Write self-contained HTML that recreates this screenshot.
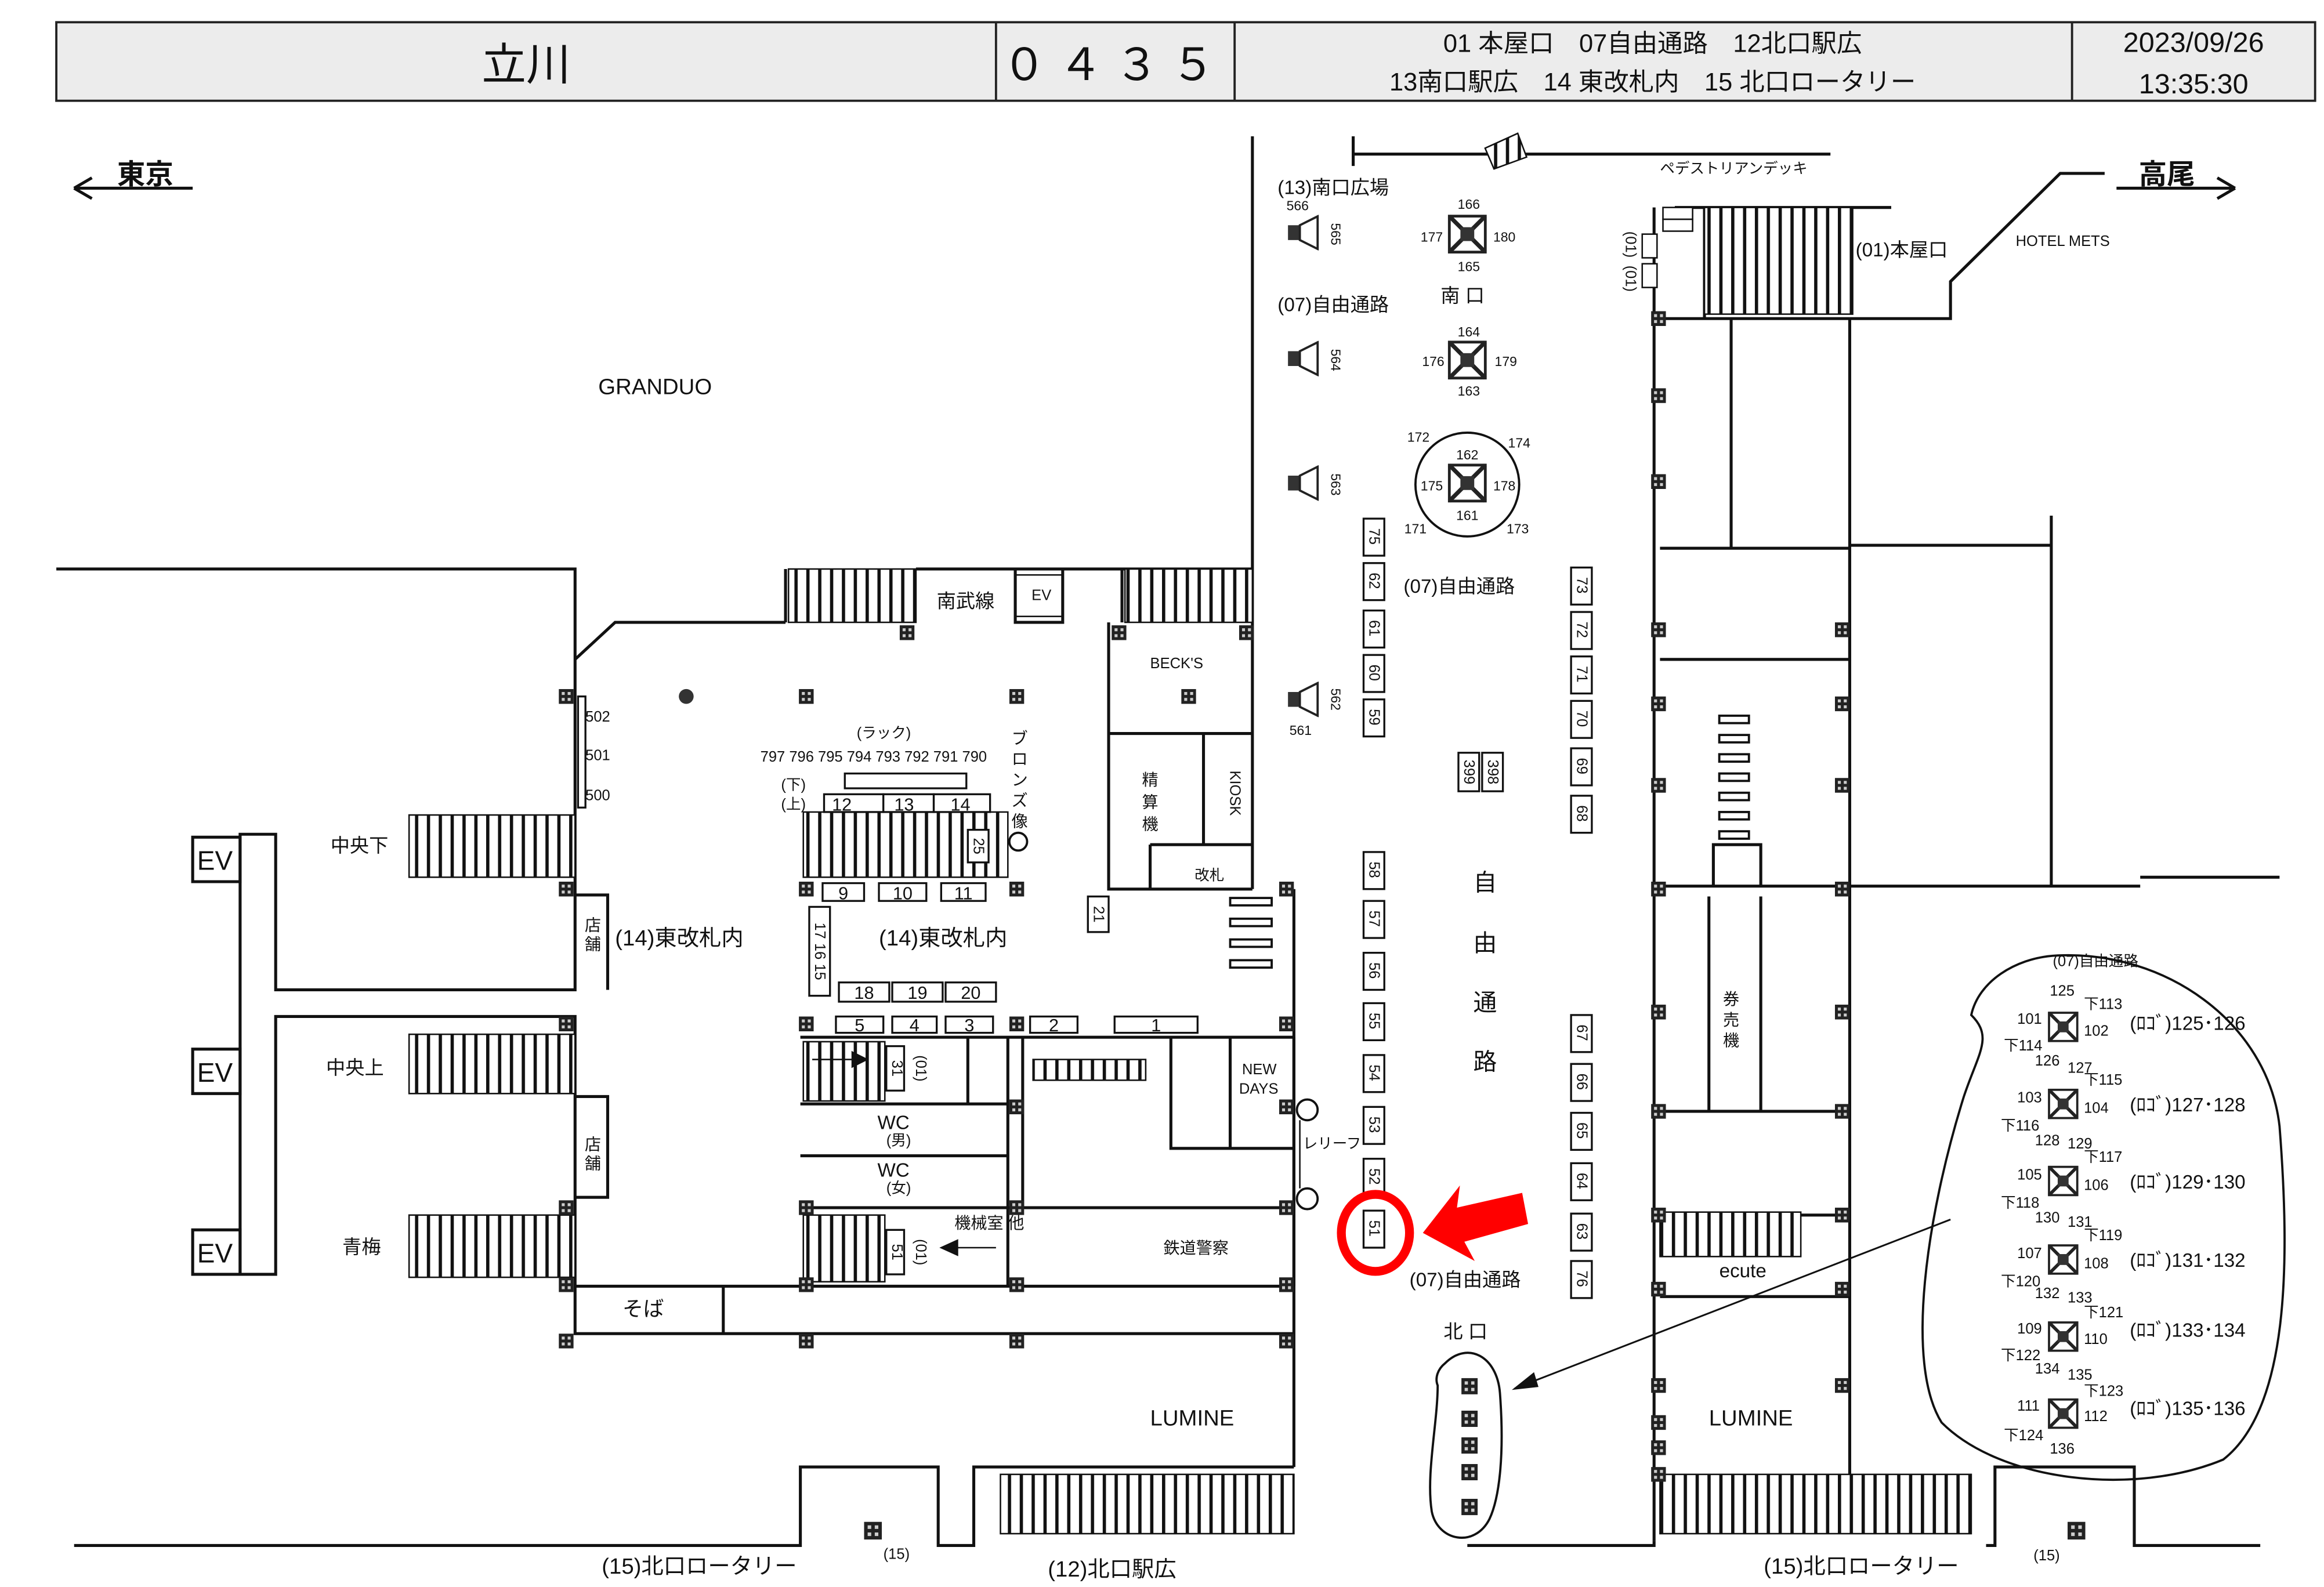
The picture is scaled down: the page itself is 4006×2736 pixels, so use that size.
<!DOCTYPE html>
<html><head><meta charset="utf-8"><style>
html,body{margin:0;padding:0;background:#fff;}
svg{display:block;}
text{font-family:"Liberation Sans","Noto Sans CJK JP",sans-serif;fill:#111;}
</style></head><body>
<svg width="4006" height="2736" viewBox="0 0 1568 1071" preserveAspectRatio="none" xmlns="http://www.w3.org/2000/svg">
<defs>
<pattern id="hat" width="8" height="10" patternUnits="userSpaceOnUse"><rect width="8" height="10" fill="#fff"/><rect x="0" width="2.2" height="10" fill="#111"/></pattern>
<symbol id="p" viewBox="0 0 10 10"><rect width="10" height="10" fill="#222"/><rect x="2" y="2" width="2" height="2" fill="#ccc"/><rect x="6" y="2" width="2" height="2" fill="#ccc"/><rect x="2" y="6" width="2" height="2" fill="#ccc"/><rect x="6" y="6" width="2" height="2" fill="#ccc"/></symbol>
<symbol id="sq" viewBox="0 0 30 30"><rect x="2" y="2" width="26" height="26" fill="#fff" stroke="#222" stroke-width="2"/><path d="M2 2L28 28M28 2L2 28" stroke="#222" stroke-width="3"/><rect x="10" y="10" width="10" height="10" fill="#333"/></symbol>
<symbol id="spk" viewBox="0 0 24 24"><rect x="2" y="7" width="8" height="10" fill="#333"/><path d="M10 7L22 1V23L10 17Z" fill="#fff" stroke="#222" stroke-width="1.5"/></symbol>
</defs>
<rect width="1568" height="1071" fill="#fff"/>
<!-- header -->
<rect x="38" y="15" width="1524" height="53" fill="#ececec" stroke="#222" stroke-width="1.5"/>
<path d="M672 15V68M833 15V68M1398 15V68" stroke="#222" stroke-width="1.5"/>
<text x="355" y="54" font-size="30" text-anchor="middle">立川</text>
<text x="752" y="54" font-size="30" text-anchor="middle" letter-spacing="8">０４３５</text>
<text x="1115" y="35" font-size="17" text-anchor="middle">01 本屋口　07自由通路　12北口駅広</text>
<text x="1115" y="61" font-size="17" text-anchor="middle">13南口駅広　14 東改札内　15 北口ロータリー</text>
<text x="1480" y="35" font-size="19" text-anchor="middle">2023/09/26</text>
<text x="1480" y="63" font-size="19" text-anchor="middle">13:35:30</text>
<!-- direction -->
<g stroke="#111" stroke-width="2" fill="none"><path d="M50 127H130M50 127L62 120M50 127L62 134"/><path d="M1428 127H1508M1508 127L1496 120M1508 127L1496 134"/></g>
<text x="98" y="124" font-size="19" text-anchor="middle" font-weight="bold">東京</text>
<text x="1462" y="124" font-size="19" text-anchor="middle" font-weight="bold">高尾</text>
<text x="442" y="266" font-size="15" text-anchor="middle">GRANDUO</text>
<!-- walls -->
<g stroke="#111" stroke-width="2" fill="none">
<path d="M38 384H388V668H186V563H162V860H186V686H388V900H873"/>
<path d="M388 868H873"/>
<path d="M388 445L415 420H530"/>
<path d="M845 92V600"/>
<path d="M873 600V990"/>
<path d="M530 384V420M618 384H757V420M757 384H845"/>
<path d="M685 384V420H717V384"/>
<path d="M748 420V600H845"/>
<path d="M748 495H845M812 495V570M776 570H845M776 570V600"/>
<path d="M913 92V112M913 104H1235"/>
<path d="M1116 140V1040M1248 215V1000"/>
<path d="M1116 215H1248M1168 215V370M1120 370H1248V445H1120M1120 598H1248M1156 598V570H1188V598"/>
<path d="M1248 368H1384V348M1384 348V598M1248 598H1444M1444 592H1538"/>
<path d="M1248 215H1316V190L1390 117H1420"/>
<path d="M1130 140H1276M1150 215V140"/>
<path d="M1153 605V750H1188V605"/>
<path d="M1120 750H1248M1120 820H1248M1120 875H1248"/>
<path d="M540 700H873M690 700V815H873M790 700V775H873M830 700V775"/>
<path d="M540 745H680M540 780H680M540 815H690"/>
<path d="M653 700V745M680 700V868"/>
<path d="M488 868V900"/>
<path d="M50 1043H540V990H633V1043H657V990H873M990 1043H1116V1040M1340 1043H1346V990H1440V1043H1525"/>
<path d="M388 604H410V668M388 740H410V808H388"/>
<path d="M130 565H162V595H130ZM130 708H162V738H130ZM130 830H162V860H130Z"/>
<path d="M873 700V868"/>
</g>
<!-- escalators/stairs -->
<g stroke="#111" stroke-width="1">
<rect x="532" y="384" width="86" height="36" fill="url(#hat)"/>
<rect x="759" y="384" width="86" height="36" fill="url(#hat)"/>
<rect x="276" y="550" width="112" height="42" fill="url(#hat)"/>
<rect x="276" y="698" width="112" height="40" fill="url(#hat)"/>
<rect x="276" y="820" width="112" height="42" fill="url(#hat)"/>
<rect x="542" y="548" width="138" height="44" fill="url(#hat)"/>
<rect x="542" y="703" width="55" height="40" fill="url(#hat)"/>
<rect x="542" y="820" width="55" height="45" fill="url(#hat)"/>
<rect x="697" y="715" width="76" height="14" fill="url(#hat)"/>
<rect x="1120" y="818" width="95" height="30" fill="url(#hat)"/>
<rect x="1150" y="140" width="100" height="72" fill="url(#hat)"/>
<rect x="675" y="995" width="198" height="40" fill="url(#hat)"/>
<rect x="1120" y="995" width="210" height="40" fill="url(#hat)"/>
<path d="M1002 100L1024 90L1030 106L1008 114Z" fill="url(#hat)"/>
</g>
<!-- benches -->
<g fill="#fff" stroke="#111" stroke-width="1.5">
<rect x="830" y="606" width="28" height="5"/><rect x="830" y="620" width="28" height="5"/><rect x="830" y="634" width="28" height="5"/><rect x="830" y="648" width="28" height="5"/>
<rect x="1160" y="483" width="20" height="5"/><rect x="1160" y="496" width="20" height="5"/><rect x="1160" y="509" width="20" height="5"/><rect x="1160" y="522" width="20" height="5"/><rect x="1160" y="535" width="20" height="5"/><rect x="1160" y="548" width="20" height="5"/><rect x="1160" y="561" width="20" height="5"/>
</g>
<!-- pillars -->
<g>
<use href="#p" x="377" y="465" width="10" height="10"/><use href="#p" x="539" y="465" width="10" height="10"/><use href="#p" x="681" y="465" width="10" height="10"/><use href="#p" x="797" y="465" width="10" height="10"/>
<use href="#p" x="607" y="422" width="10" height="10"/><use href="#p" x="750" y="422" width="10" height="10"/><use href="#p" x="836" y="422" width="10" height="10"/>
<use href="#p" x="377" y="595" width="10" height="10"/><use href="#p" x="539" y="595" width="10" height="10"/><use href="#p" x="681" y="595" width="10" height="10"/><use href="#p" x="863" y="595" width="10" height="10"/>
<use href="#p" x="377" y="686" width="10" height="10"/><use href="#p" x="539" y="686" width="10" height="10"/><use href="#p" x="681" y="686" width="10" height="10"/><use href="#p" x="863" y="686" width="10" height="10"/>
<use href="#p" x="377" y="810" width="10" height="10"/><use href="#p" x="539" y="810" width="10" height="10"/><use href="#p" x="681" y="810" width="10" height="10"/><use href="#p" x="863" y="810" width="10" height="10"/>
<use href="#p" x="377" y="862" width="10" height="10"/><use href="#p" x="539" y="862" width="10" height="10"/><use href="#p" x="681" y="862" width="10" height="10"/><use href="#p" x="863" y="862" width="10" height="10"/>
<use href="#p" x="681" y="742" width="10" height="10"/><use href="#p" x="863" y="742" width="10" height="10"/>
<use href="#p" x="377" y="900" width="10" height="10"/><use href="#p" x="539" y="900" width="10" height="10"/><use href="#p" x="681" y="900" width="10" height="10"/><use href="#p" x="863" y="900" width="10" height="10"/>
<use href="#p" x="1114" y="210" width="10" height="10"/><use href="#p" x="1114" y="262" width="10" height="10"/><use href="#p" x="1114" y="320" width="10" height="10"/><use href="#p" x="1114" y="420" width="10" height="10"/><use href="#p" x="1238" y="420" width="10" height="10"/><use href="#p" x="1114" y="470" width="10" height="10"/><use href="#p" x="1238" y="470" width="10" height="10"/><use href="#p" x="1114" y="525" width="10" height="10"/><use href="#p" x="1238" y="525" width="10" height="10"/><use href="#p" x="1114" y="595" width="10" height="10"/><use href="#p" x="1238" y="595" width="10" height="10"/><use href="#p" x="1114" y="678" width="10" height="10"/><use href="#p" x="1238" y="678" width="10" height="10"/><use href="#p" x="1114" y="745" width="10" height="10"/><use href="#p" x="1238" y="745" width="10" height="10"/><use href="#p" x="1114" y="815" width="10" height="10"/><use href="#p" x="1238" y="815" width="10" height="10"/><use href="#p" x="1114" y="865" width="10" height="10"/><use href="#p" x="1238" y="865" width="10" height="10"/><use href="#p" x="1114" y="930" width="10" height="10"/><use href="#p" x="1238" y="930" width="10" height="10"/><use href="#p" x="1114" y="955" width="10" height="10"/><use href="#p" x="1114" y="972" width="10" height="10"/><use href="#p" x="1114" y="990" width="10" height="10"/>
<use href="#p" x="1395" y="1027" width="12" height="12"/><use href="#p" x="583" y="1027" width="12" height="12"/>
<use href="#p" x="986" y="930" width="11" height="11"/><use href="#p" x="986" y="952" width="11" height="11"/><use href="#p" x="986" y="970" width="11" height="11"/><use href="#p" x="986" y="988" width="11" height="11"/><use href="#p" x="986" y="1010" width="11" height="14"/>
</g>
<circle cx="463" cy="470" r="5" fill="#333"/>
<!-- square devices -->
<use href="#sq" x="976" y="144" width="28" height="28"/><use href="#sq" x="976" y="229" width="28" height="28"/><use href="#sq" x="976" y="312" width="28" height="28"/>
<circle cx="990" cy="327" r="35" fill="none" stroke="#111" stroke-width="1.5"/>
<g font-size="9" text-anchor="middle"><text x="991" y="141">166</text><text x="991" y="183">165</text><text x="966" y="163">177</text><text x="1015" y="163">180</text><text x="991" y="227">164</text><text x="991" y="267">163</text><text x="967" y="247">176</text><text x="1016" y="247">179</text><text x="990" y="310">162</text><text x="990" y="351">161</text><text x="966" y="331">175</text><text x="1015" y="331">178</text><text x="957" y="298">172</text><text x="1025" y="302">174</text><text x="955" y="360">171</text><text x="1024" y="360">173</text></g>
<!-- speakers -->
<use href="#spk" x="867" y="145" width="24" height="24"/><use href="#spk" x="867" y="230" width="24" height="24"/><use href="#spk" x="867" y="314" width="24" height="24"/><use href="#spk" x="867" y="460" width="24" height="24"/>
<g font-size="9"><text x="868" y="142">566</text><text x="870" y="496">561</text></g>
<g font-size="9" text-anchor="middle"><text transform="translate(898,158) rotate(90)">565</text><text transform="translate(898,243) rotate(90)">564</text><text transform="translate(898,327) rotate(90)">563</text><text transform="translate(898,472) rotate(90)">562</text></g>
<!-- numbered vertical boxes -->
<g fill="#fff" stroke="#111" stroke-width="1.3">
<rect x="920" y="350" width="14" height="25"/><rect x="920" y="380" width="14" height="25"/><rect x="920" y="412" width="14" height="25"/><rect x="920" y="442" width="14" height="25"/><rect x="920" y="472" width="14" height="25"/><rect x="920" y="575" width="14" height="25"/><rect x="920" y="608" width="14" height="25"/><rect x="920" y="643" width="14" height="25"/><rect x="920" y="677" width="14" height="25"/><rect x="920" y="712" width="14" height="25"/><rect x="920" y="747" width="14" height="25"/><rect x="920" y="782" width="14" height="25"/><rect x="920" y="817" width="14" height="25"/>
<rect x="1060" y="383" width="14" height="25"/><rect x="1060" y="413" width="14" height="25"/><rect x="1060" y="443" width="14" height="25"/><rect x="1060" y="473" width="14" height="25"/><rect x="1060" y="505" width="14" height="25"/><rect x="1060" y="537" width="14" height="25"/><rect x="1060" y="685" width="14" height="25"/><rect x="1060" y="718" width="14" height="25"/><rect x="1060" y="751" width="14" height="25"/><rect x="1060" y="785" width="14" height="25"/><rect x="1060" y="819" width="14" height="25"/><rect x="1060" y="851" width="14" height="25"/>
<rect x="984" y="508" width="14" height="26"/><rect x="1000" y="508" width="14" height="26"/>
</g>
<g font-size="10" text-anchor="middle">
<text transform="translate(924,362) rotate(90)">75</text><text transform="translate(924,392) rotate(90)">62</text><text transform="translate(924,424) rotate(90)">61</text><text transform="translate(924,454) rotate(90)">60</text><text transform="translate(924,484) rotate(90)">59</text><text transform="translate(924,587) rotate(90)">58</text><text transform="translate(924,620) rotate(90)">57</text><text transform="translate(924,655) rotate(90)">56</text><text transform="translate(924,689) rotate(90)">55</text><text transform="translate(924,724) rotate(90)">54</text><text transform="translate(924,759) rotate(90)">53</text><text transform="translate(924,794) rotate(90)">52</text><text transform="translate(924,829) rotate(90)">51</text>
<text transform="translate(1064,395) rotate(90)">73</text><text transform="translate(1064,425) rotate(90)">72</text><text transform="translate(1064,455) rotate(90)">71</text><text transform="translate(1064,485) rotate(90)">70</text><text transform="translate(1064,517) rotate(90)">69</text><text transform="translate(1064,549) rotate(90)">68</text><text transform="translate(1064,697) rotate(90)">67</text><text transform="translate(1064,730) rotate(90)">66</text><text transform="translate(1064,763) rotate(90)">65</text><text transform="translate(1064,797) rotate(90)">64</text><text transform="translate(1064,831) rotate(90)">63</text><text transform="translate(1064,863) rotate(90)">76</text>
<text transform="translate(988,521) rotate(90)">399</text><text transform="translate(1004,521) rotate(90)">398</text>
</g>
<!-- central labels -->
<g font-size="16" text-anchor="middle"><text x="1002" y="601">自</text><text x="1002" y="642">由</text><text x="1002" y="682">通</text><text x="1002" y="722">路</text></g>
<g font-size="13">
<text x="862" y="131">(13)南口広場</text><text x="862" y="210">(07)自由通路</text><text x="972" y="204">南 口</text><text x="947" y="400">(07)自由通路</text><text x="951" y="868">(07)自由通路</text><text x="974" y="903">北 口</text>
<text x="1252" y="173">(01)本屋口</text>
<text x="632" y="410">南武線</text><text x="415" y="638" font-size="15">(14)東改札内</text><text x="593" y="638" font-size="15">(14)東改札内</text>
<text x="223" y="575">中央下</text><text x="220" y="725">中央上</text><text x="231" y="846">青梅</text>
<text x="420" y="888" font-size="14">そば</text>
<text x="776" y="962" font-size="15">LUMINE</text><text x="1153" y="962" font-size="15">LUMINE</text><text x="1160" y="862">ecute</text>
<text x="406" y="1062" font-size="15">(15)北口ロータリー</text><text x="707" y="1064" font-size="15">(12)北口駅広</text><text x="1190" y="1062" font-size="15">(15)北口ロータリー</text>
<text x="592" y="762">WC</text><text x="592" y="794">WC</text><text x="644" y="829" font-size="11">機械室 他</text><text x="785" y="846" font-size="11">鉄道警察</text>
</g>
<g font-size="10">
<text x="1120" y="117">ペデストリアンデッキ</text><text x="1360" y="166">HOTEL METS</text>
<text x="696" y="405" font-size="10">EV</text><rect x="685" y="388" width="32" height="28" fill="none" stroke="#111"/>
<text x="776" y="451">BECK'S</text><text x="806" y="594">改札</text><text x="838" y="725">NEW</text><text x="836" y="738">DAYS</text><text x="879" y="775">レリーフ</text>
<text x="578" y="498">(ラック)</text><text x="513" y="514">797 796 795 794 793 792 791 790</text>
<text x="527" y="533">(下)</text><text x="527" y="546">(上)</text>
<text x="598" y="773">(男)</text><text x="598" y="805">(女)</text>
<text x="395" y="487">502</text><text x="395" y="513">501</text><text x="395" y="540">500</text>
<text x="1385" y="652">(07)自由通路</text>
<text x="596" y="1052">(15)</text><text x="1372" y="1053">(15)</text>
</g>
<g font-size="18"><text x="133" y="587">EV</text><text x="133" y="730">EV</text><text x="133" y="852">EV</text></g>
<g font-size="11" text-anchor="middle"><text x="400" y="628">店</text><text x="400" y="641">舗</text><text x="400" y="776">店</text><text x="400" y="789">舗</text><text x="776" y="530">精</text><text x="776" y="545">算</text><text x="776" y="560">機</text><text x="1168" y="678">券</text><text x="1168" y="692">売</text><text x="1168" y="706">機</text><text x="688" y="502">ブ</text><text x="688" y="516">ロ</text><text x="688" y="530">ン</text><text x="688" y="544">ズ</text><text x="688" y="558">像</text></g>
<text transform="translate(830,520) rotate(90)" font-size="10">KIOSK</text>
<!-- numbered horizontal boxes -->
<g fill="#fff" stroke="#111" stroke-width="1.3">
<rect x="556" y="536" width="40" height="12"/><rect x="596" y="536" width="34" height="12"/><rect x="630" y="536" width="38" height="12"/>
<rect x="570" y="522" width="82" height="10"/>
<rect x="555" y="596" width="28" height="12"/><rect x="593" y="596" width="32" height="12"/><rect x="635" y="596" width="30" height="12"/>
<rect x="546" y="612" width="14" height="60"/><rect x="653" y="560" width="14" height="22"/>
<rect x="566" y="663" width="34" height="13"/><rect x="602" y="663" width="34" height="13"/><rect x="638" y="663" width="34" height="13"/>
<rect x="564" y="686" width="32" height="11"/><rect x="602" y="686" width="30" height="11"/><rect x="638" y="686" width="32" height="11"/><rect x="695" y="686" width="32" height="11"/><rect x="752" y="686" width="56" height="11"/>
<rect x="734" y="605" width="14" height="24"/><rect x="598" y="706" width="12" height="30"/><rect x="598" y="830" width="12" height="30"/>
<rect x="390" y="470" width="5" height="75"/>
</g>
<g font-size="12" text-anchor="middle"><text x="568" y="547">12</text><text x="610" y="547">13</text><text x="648" y="547">14</text><text x="569" y="607">9</text><text x="609" y="607">10</text><text x="650" y="607">11</text><text x="583" y="674">18</text><text x="619" y="674">19</text><text x="655" y="674">20</text><text x="580" y="696">5</text><text x="617" y="696">4</text><text x="654" y="696">3</text><text x="711" y="696">2</text><text x="780" y="696">1</text></g>
<g font-size="10" text-anchor="middle"><text transform="translate(550,642) rotate(90)">17 16 15</text><text transform="translate(657,571) rotate(90)">25</text><text transform="translate(738,617) rotate(90)">21</text><text transform="translate(602,721) rotate(90)">31</text><text transform="translate(602,845) rotate(90)">51</text><text transform="translate(618,721) rotate(90)">(01)</text><text transform="translate(618,845) rotate(90)">(01)</text><text transform="translate(1097,165) rotate(90)">(01)</text><text transform="translate(1097,188) rotate(90)">(01)</text></g>
<circle cx="687" cy="568" r="6" fill="none" stroke="#111" stroke-width="1.5"/>
<g fill="#fff" stroke="#111" stroke-width="1.5"><circle cx="882" cy="749" r="7"/><circle cx="882" cy="809" r="7"/></g>
<path d="M877 756V802" stroke="#111"/>
<path d="M672 842H635M635 842L646 837V847Z" stroke="#111" fill="#111"/>
<path d="M548 715H585M585 715L575 710V720Z" stroke="#111" fill="#111"/>
<!-- pedestrian deck boxes right -->
<g fill="#fff" stroke="#111" stroke-width="1"><rect x="1108" y="158" width="10" height="16"/><rect x="1108" y="178" width="10" height="16"/><rect x="1122" y="140" width="20" height="8"/><rect x="1122" y="148" width="20" height="8"/></g>
<!-- right oval -->
<path d="M1385 645C1460 640 1530 690 1538 760C1545 850 1545 950 1500 985C1440 1010 1350 1000 1310 960C1285 920 1300 820 1325 740C1335 710 1345 700 1330 685C1335 662 1360 647 1385 645Z" fill="none" stroke="#111" stroke-width="1.5"/>
<g font-size="10"><text x="1383" y="672">125</text><text x="1361" y="691">101</text><text x="1406" y="699">102</text><text x="1406" y="681">下113</text><text x="1352" y="709">下114</text><text x="1373" y="719">126</text><text x="1395" y="724">127</text><text x="1406" y="732">下115</text><text x="1361" y="744">103</text><text x="1406" y="751">104</text><text x="1350" y="763">下116</text><text x="1373" y="773">128</text><text x="1395" y="775">129</text><text x="1406" y="784">下117</text><text x="1361" y="796">105</text><text x="1406" y="803">106</text><text x="1350" y="815">下118</text><text x="1373" y="825">130</text><text x="1395" y="828">131</text><text x="1406" y="837">下119</text><text x="1361" y="849">107</text><text x="1406" y="856">108</text><text x="1350" y="868">下120</text><text x="1373" y="876">132</text><text x="1395" y="879">133</text><text x="1406" y="889">下121</text><text x="1361" y="900">109</text><text x="1406" y="907">110</text><text x="1350" y="918">下122</text><text x="1373" y="927">134</text><text x="1395" y="931">135</text><text x="1406" y="942">下123</text><text x="1361" y="952">111</text><text x="1406" y="959">112</text><text x="1352" y="972">下124</text><text x="1383" y="981">136</text></g>
<g font-size="13"><text x="1437" y="695">(ﾛｺﾞ)125･126</text><text x="1437" y="750">(ﾛｺﾞ)127･128</text><text x="1437" y="802">(ﾛｺﾞ)129･130</text><text x="1437" y="855">(ﾛｺﾞ)131･132</text><text x="1437" y="902">(ﾛｺﾞ)133･134</text><text x="1437" y="955">(ﾛｺﾞ)135･136</text></g>
<g><use href="#sq" x="1381" y="679" width="22" height="28"/><use href="#sq" x="1381" y="731" width="22" height="28"/><use href="#sq" x="1381" y="783" width="22" height="28"/><use href="#sq" x="1381" y="836" width="22" height="28"/><use href="#sq" x="1381" y="888" width="22" height="28"/><use href="#sq" x="1381" y="940" width="22" height="28"/></g>
<!-- north exit oval -->
<path d="M975 920C990 905 1010 915 1012 940C1015 980 1012 1010 1005 1025C995 1045 970 1040 966 1020C962 995 970 960 970 935C968 930 970 924 975 920Z" fill="none" stroke="#111" stroke-width="1.5"/>
<path d="M1316 823L1022 937" stroke="#111" stroke-width="1.2"/><path d="M1020 938L1035 926L1038 936Z" fill="#111"/>
<!-- red marker -->
<ellipse cx="928" cy="832" rx="23" ry="26" fill="none" stroke="#f00" stroke-width="6"/>
<path d="M960 832L985 800L983 815L1027 805L1031 826L988 838L995 851Z" fill="#f00"/>
</svg>
</body></html>
